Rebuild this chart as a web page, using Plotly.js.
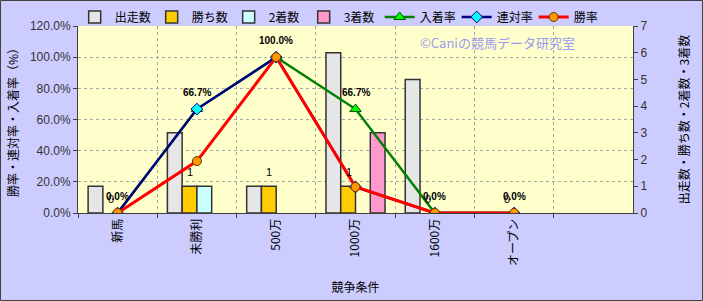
<!DOCTYPE html>
<html>
<head>
<meta charset="utf-8">
<script src="https://cdn.plot.ly/plotly-3.0.1.min.js"></script>
<style>
  html, body { margin: 0; padding: 0; background: #CCCCFF; }
  #chart { width: 703px; height: 301px; }
</style>
</head>
<body>
<div id="chart"></div>
<script>
// ---- data ----
const categories = ['新馬', '未勝利', '500万', '1000万', '1600万', 'オープン'];
const starts   = [1, 3, 1, 6, 5, 0];      // 出走数
const wins     = [0, 1, 1, 1, 0, 0];      // 勝ち数
const seconds  = [0, 1, 0, 0, 0, 0];      // 2着数
const thirds   = [0, 0, 0, 3, 0, 0];      // 3着数
const placeRate = [0, 0.667, 1.0, 0.667, 0, 0];   // 入着率
const rentaiRate = [0, 0.667, 1.0, 0.167, 0, 0];  // 連対率
const winRate  = [0, 0.333, 1.0, 0.167, 0, 0];    // 勝率
const placeRateLabels = ['0.0%', '66.7%', '100.0%', '66.7%', '0.0%', '0.0%'];
const winLabels = ['0', '1', '1', '1', '0', '0'];
const leftTicks = [0, 0.2, 0.4, 0.6, 0.8, 1.0, 1.2];
const leftTickText = ['0.0%', '20.0%', '40.0%', '60.0%', '80.0%', '100.0%', '120.0%'];
const rightTicks = [0, 1, 2, 3, 4, 5, 6, 7];

const FONT = 'Liberation Sans, Arial, "Noto Sans CJK JP", sans-serif';
const JFONT = '"Noto Sans CJK JP", "Liberation Sans", sans-serif';
const barLine = { color: '#333333', width: 1.5 };
// zero-height bars are not drawn in the reference
const hideZero = arr => arr.map(v => (v === 0 ? null : v));

const traces = [
  { type: 'bar', name: '出走数', x: categories, y: hideZero(starts), yaxis: 'y', legendwidth: 32,
    marker: { color: '#E6E6E6', line: barLine } },
  { type: 'bar', name: '勝ち数', x: categories, y: hideZero(wins), yaxis: 'y', legendwidth: 32,
    marker: { color: '#FFCC00', line: barLine } },
  { type: 'bar', name: '2着数', x: categories, y: hideZero(seconds), yaxis: 'y', legendwidth: 30,
    marker: { color: '#CCFFFF', line: barLine } },
  { type: 'bar', name: '3着数', x: categories, y: hideZero(thirds), yaxis: 'y', legendwidth: 31,
    marker: { color: '#FF99CC', line: barLine } },
  { type: 'scatter', mode: 'lines+markers', name: '入着率', x: categories, y: placeRate, yaxis: 'y2', legendwidth: 32,
    line: { color: '#008000', width: 2.5 },
    marker: { symbol: 'triangle-up', size: 10, color: '#00FF00', line: { color: '#005000', width: 1 } } },
  { type: 'scatter', mode: 'lines+markers', name: '連対率', x: categories, y: rentaiRate, yaxis: 'y2', legendwidth: 32,
    line: { color: '#000080', width: 2.5 },
    marker: { symbol: 'diamond', size: 9, color: '#00FFFF', line: { color: '#000080', width: 1 } } },
  { type: 'scatter', mode: 'lines+markers', name: '勝率', x: categories, y: winRate, yaxis: 'y2', legendwidth: 32,
    line: { color: '#FF0000', width: 3 },
    marker: { symbol: 'circle', size: 9, color: '#FF9900', line: { color: '#663300', width: 1 } } }
];

const annotations = [];
categories.forEach((c, i) => {
  annotations.push({ x: c, y: placeRate[i], xref: 'x', yref: 'y2', text: placeRateLabels[i],
    showarrow: false, yshift: 17, font: { family: FONT, size: 10, color: '#000000', weight: 'bold' } });
  annotations.push({ x: c, y: wins[i], xref: 'x', yref: 'y', text: winLabels[i],
    showarrow: false, xshift: -7, yshift: 14, font: { family: FONT, size: 11, color: '#000000' } });
});
annotations.push({ x: 0.755, y: 0.91, xref: 'paper', yref: 'paper', xanchor: 'center', yanchor: 'middle',
  text: '©Caniの競馬データ研究室',
  showarrow: false, font: { family: JFONT, size: 13, color: '#9A9AF0' } });

const plotW = 555, plotH = 187, mL = 78, mT = 26;
const layout = {
  width: 703, height: 301,
  margin: { l: mL, r: 703 - mL - plotW, t: mT, b: 301 - mT - plotH, pad: 0, autoexpand: false },
  paper_bgcolor: '#CCCCFF',
  plot_bgcolor: '#FFFFCC',
  barmode: 'group',
  bargap: 0.255,
  bargroupgap: 0,
  showlegend: true,
  legend: { orientation: 'h', x: -0.006, xanchor: 'left', y: 1.048, yanchor: 'middle',
    bgcolor: 'rgba(0,0,0,0)', font: { family: JFONT, size: 12, color: '#000000' },
    itemwidth: 30, traceorder: 'normal' },
  xaxis: {
    type: 'category', range: [-0.5, 6.5], tickson: 'boundaries',
    showgrid: true, gridcolor: '#A8A8A8', griddash: 'dot', gridwidth: 1,
    showline: true, linecolor: '#404040', linewidth: 1,
    ticks: 'outside', ticklen: 4, tickcolor: '#404040',
    tickangle: -90, tickfont: { family: JFONT, size: 12, color: '#000000' },
    title: { text: '競争条件', font: { family: JFONT, size: 12, color: '#000000' }, standoff: 18 },
    automargin: false, fixedrange: true
  },
  yaxis: {
    side: 'right', range: [0, 7], tickvals: rightTicks, showgrid: false, zeroline: false,
    showline: true, linecolor: '#404040', linewidth: 1,
    ticks: 'outside', ticklen: 4, tickcolor: '#404040',
    tickfont: { family: FONT, size: 12, color: '#333333' },
    title: { text: '出走数・勝ち数・2着数・3着数', font: { family: JFONT, size: 12, color: '#000000' }, standoff: 34 },
    automargin: false, fixedrange: true
  },
  yaxis2: {
    overlaying: 'y', side: 'left', range: [0, 1.2], tickvals: leftTicks, ticktext: leftTickText,
    showgrid: true, gridcolor: '#A8A8A8', griddash: 'dot', gridwidth: 1, zeroline: false,
    showline: true, linecolor: '#404040', linewidth: 1,
    ticks: 'outside', ticklen: 4, tickcolor: '#404040',
    tickfont: { family: FONT, size: 12, color: '#333333' },
    title: { text: '勝率・連対率・入着率（%）', font: { family: JFONT, size: 12, color: '#000000' }, standoff: 8 },
    automargin: false, fixedrange: true
  },
  annotations: annotations,
  shapes: [
    { type: 'rect', xref: 'paper', yref: 'paper',
      x0: (0.5 - mL) / plotW, x1: (702.5 - mL) / plotW,
      y0: (mT + plotH - 300.5) / plotH, y1: (mT + plotH - 0.5) / plotH,
      line: { color: '#404040', width: 1 }, fillcolor: 'rgba(0,0,0,0)', layer: 'above' }
  ]
};

Plotly.newPlot('chart', traces, layout, { displayModeBar: false, staticPlot: true });
</script>
</body>
</html>
